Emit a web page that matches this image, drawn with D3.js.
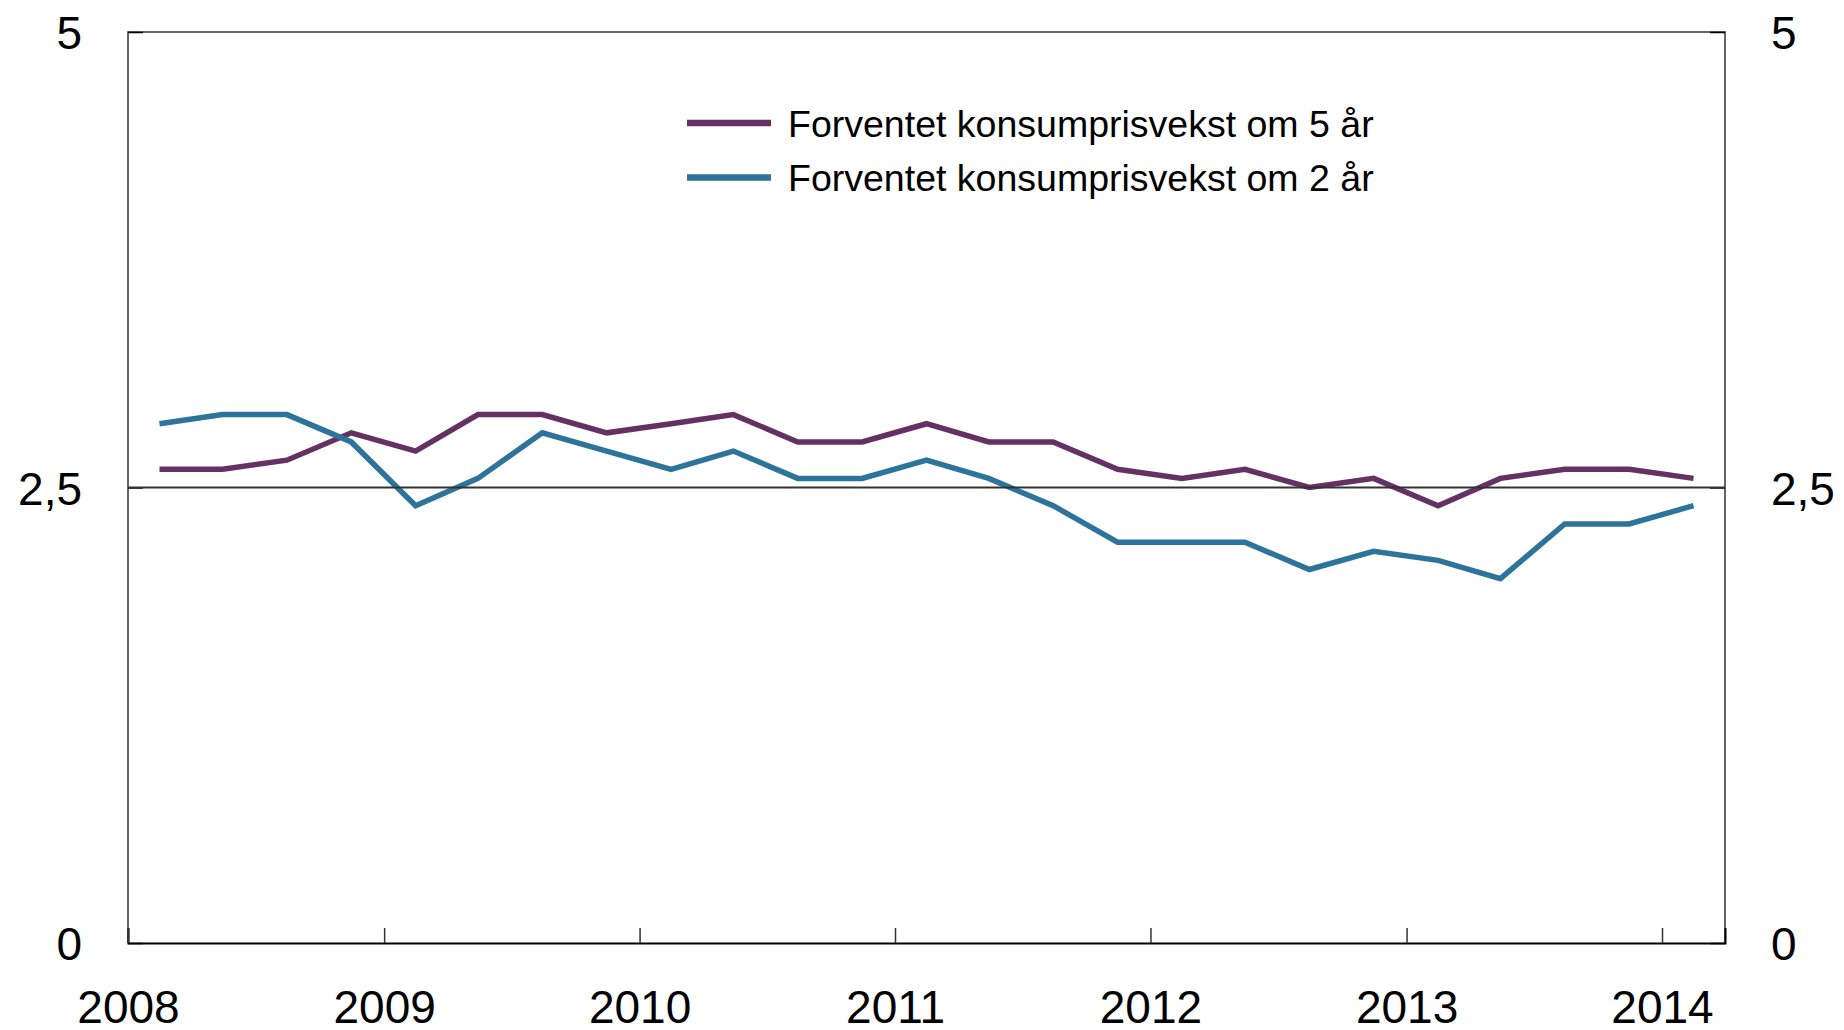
<!DOCTYPE html>
<html>
<head>
<meta charset="utf-8">
<script src="https://d3js.org/d3.v7.min.js"></script>
<style>
    body { margin: 0; background: #fff; }
    svg text { font-family: "Liberation Sans", Arial, Helvetica, sans-serif; fill: #000; }
</style>
</head>
<body>
<div id="chart"></div>
<script>

// quarterly survey dates
var dates = ["2008-02-15", "2008-05-15", "2008-08-15", "2008-11-15",
    "2009-02-15", "2009-05-15", "2009-08-15", "2009-11-15",
    "2010-02-15", "2010-05-15", "2010-08-15", "2010-11-15",
    "2011-02-15", "2011-05-15", "2011-08-15", "2011-11-15",
    "2012-02-15", "2012-05-15", "2012-08-15", "2012-11-15",
    "2013-02-15", "2013-05-15", "2013-08-15", "2013-11-15",
    "2014-02-15"];

var fiveYear = [2.6, 2.6, 2.65, 2.8, 2.7, 2.9, 2.9, 2.8, 2.85, 2.9, 2.75, 2.75,
    2.85, 2.75, 2.75, 2.6, 2.55, 2.6, 2.5, 2.55, 2.4, 2.55, 2.6, 2.6, 2.55];

var twoYear = [2.85, 2.9, 2.9, 2.75, 2.4, 2.55, 2.8, 2.7, 2.6, 2.7, 2.55, 2.55,
    2.65, 2.55, 2.4, 2.2, 2.2, 2.2, 2.05, 2.15, 2.1, 2.0, 2.3, 2.3, 2.4];

var seriesNames = ["Forventet konsumprisvekst om 5 år", "Forventet konsumprisvekst om 2 år"];
var seriesColors = ["#653165", "#2c749a"];

var yTicks = [0, 2.5, 5];
var xTickYears = [2008, 2009, 2010, 2011, 2012, 2013, 2014];
var refValue = 2.5;

var margin = {top: 32, right: 119, bottom: 87, left: 128},
    totalWidth = 1844,
    totalHeight = 1030,
    width = totalWidth - margin.left - margin.right,
    height = totalHeight - margin.top - margin.bottom;

var parseDate = d3.timeParse("%Y-%m-%d");
var formatComma = function (d) { return String(d).replace(".", ","); };

var xScale = d3.scaleTime()
    .domain([new Date(2008, 0, 1), new Date(2014, 3, 1)])
    .range([0, width]);
var yScale = d3.scaleLinear().domain([0, 5]).range([height, 0]);

var svg = d3.select("#chart")
    .append("svg")
    .attr("width", totalWidth)
    .attr("height", totalHeight)
    .append("g")
    .attr("transform", "translate(" + margin.left + "," + margin.top + ")");

var series = [fiveYear, twoYear].map(function (vals, i) {
    return {
        name: seriesNames[i],
        color: seriesColors[i],
        values: vals.map(function (v, j) { return {date: parseDate(dates[j]), value: v}; })
    };
});

// frame: left, top, right
svg.append("path")
    .attr("d", "M0," + height + "V0H" + width + "V" + height)
    .attr("fill", "none")
    .attr("stroke", "#333")
    .attr("stroke-width", 1.5);

// y axes, ticks pointing inward, labels outside
var yAxisLeft = d3.axisLeft(yScale).tickValues(yTicks).tickSize(-15).tickPadding(46).tickFormat(formatComma);
var yAxisRight = d3.axisRight(yScale).tickValues(yTicks).tickSize(-15).tickPadding(46).tickFormat(formatComma);

svg.append("g").attr("class", "y axis left").call(yAxisLeft);
svg.append("g").attr("class", "y axis right")
    .attr("transform", "translate(" + width + ",0)")
    .call(yAxisRight);

d3.selectAll(".y.axis path.domain").remove();
d3.selectAll(".y.axis line").attr("stroke", "#000").attr("stroke-width", 1.5);
d3.selectAll(".y.axis text")
    .style("font-size", "46px")
    .attr("dy", "0.36em");

// x axis at bottom
var xAxis = d3.axisBottom(xScale)
    .tickValues(xTickYears.map(function (y) { return new Date(y, 0, 1); }))
    .tickSize(-15)
    .tickPadding(47)
    .tickFormat(d3.timeFormat("%Y"));

svg.append("g")
    .attr("class", "x axis")
    .attr("transform", "translate(0," + height + ")")
    .call(xAxis);

svg.select(".x.axis path.domain").attr("stroke", "#000").attr("stroke-width", 2);
svg.selectAll(".x.axis line").attr("stroke", "#333").attr("stroke-width", 1.5);
svg.selectAll(".x.axis text").style("font-size", "46px");

var line = d3.line()
    .x(function (d) { return xScale(d.date); })
    .y(function (d) { return yScale(d.value); });

svg.selectAll(".series")
    .data(series)
    .enter()
    .append("path")
    .attr("class", "series")
    .attr("fill", "none")
    .attr("stroke", function (d) { return d.color; })
    .attr("stroke-width", 5.5)
    .attr("d", function (d) { return line(d.values); });

// reference line at 2,5
svg.append("line")
    .attr("x1", 0)
    .attr("x2", width)
    .attr("y1", yScale(refValue))
    .attr("y2", yScale(refValue))
    .attr("stroke", "#333")
    .attr("stroke-width", 2);

// legend
var legend = svg.append("g")
    .attr("transform", "translate(" + (687 - margin.left) + "," + (123 - margin.top) + ")");

var legendItem = legend.selectAll(".legend-item")
    .data(series)
    .enter()
    .append("g")
    .attr("class", "legend-item")
    .attr("transform", function (d, i) { return "translate(0," + (i * 54.5) + ")"; });

legendItem.append("line")
    .attr("x1", 0)
    .attr("x2", 84)
    .attr("stroke", function (d) { return d.color; })
    .attr("stroke-width", 6.5);

legendItem.append("text")
    .attr("x", 101)
    .attr("dy", "0.36em")
    .style("font-size", "37.5px")
    .text(function (d) { return d.name; });

</script>
</body>
</html>
